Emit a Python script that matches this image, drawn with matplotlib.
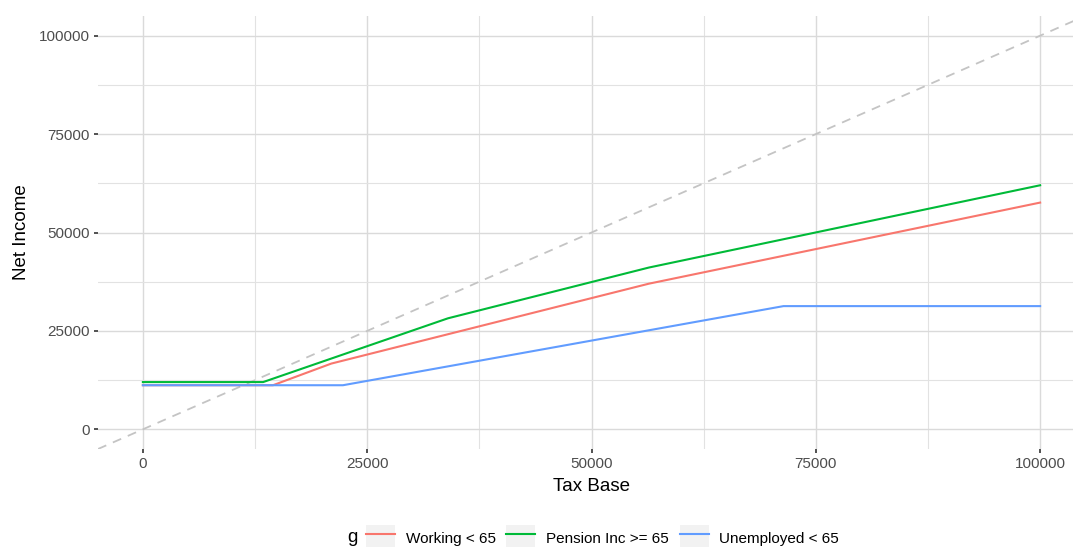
import matplotlib.pyplot as plt
from matplotlib.patches import Patch
from matplotlib.lines import Line2D
from matplotlib.legend_handler import HandlerTuple
from matplotlib.ticker import MultipleLocator

plt.rcParams["font.family"] = ["Liberation Sans", "DejaVu Sans"]

# tax base / net income break points
working_x = [0, 14500, 21000, 56400, 100000]
working_y = [11200, 11200, 16700, 37000, 57600]
pension_x = [0, 13400, 34000, 56400, 100000]
pension_y = [12000, 12000, 28200, 41100, 62000]
unemployed_x = [0, 22300, 71400, 100000]
unemployed_y = [11200, 11200, 31300, 31300]

labels = ["Working < 65", "Pension Inc >= 65", "Unemployed < 65"]
colors = ["#F8766D", "#00BA38", "#619CFF"]

fig = plt.figure(figsize=(10.73, 5.47), dpi=100)
# panel runs a little past the right edge, as in the original
ax = fig.add_axes([98 / 1073, 98 / 547, 987 / 1073, 433 / 547])

ax.axline((0, 0), slope=1, color="#c4c4c4", lw=1.3, dashes=(5, 4), zorder=2)

series = [(working_x, working_y), (pension_x, pension_y), (unemployed_x, unemployed_y)]
for (xs, ys), lab, col in zip(series, labels, colors):
    ax.plot(xs, ys, color=col, lw=1.5, label=lab, zorder=3)

ax.set_xlim(-5000, 105000)
ax.set_ylim(-5000, 105000)
ax.xaxis.set_minor_locator(MultipleLocator(12500))
ax.yaxis.set_minor_locator(MultipleLocator(12500))
ax.set_xticks([0, 25000, 50000, 75000, 100000])
ax.set_yticks([0, 25000, 50000, 75000, 100000])

ax.grid(which="major", color="#dadada", lw=1.0, zorder=0)
ax.grid(which="minor", color="#e2e2e2", lw=0.8, zorder=0)
for s in ax.spines.values():
    s.set_visible(False)
ax.tick_params(which="major", length=3, width=1.2, color="#333333",
               labelcolor="#4d4d4d", labelsize=11, pad=3)
ax.tick_params(which="minor", length=0)

ax.set_xlabel("Tax Base", fontsize=13.5, labelpad=5)
ax.set_ylabel("Net Income", fontsize=13.5, labelpad=6)

handles = [(Patch(facecolor="#f2f2f2", edgecolor="none"),
            Line2D([], [], color=c, lw=1.5)) for c in colors]
fig.text(352 / 1073, 9 / 547, "g", fontsize=13.5, ha="center", va="center")
fig.legend(handles, labels, handler_map={tuple: HandlerTuple(ndivide=1)},
           loc="center left", bbox_to_anchor=(366 / 1073, 9 / 547), ncol=3,
           frameon=False, fontsize=11, handlelength=1.9, handleheight=2.2,
           handletextpad=0.7, columnspacing=0.7, borderpad=0,
           borderaxespad=0)

fig.savefig("out.png", dpi=100)
